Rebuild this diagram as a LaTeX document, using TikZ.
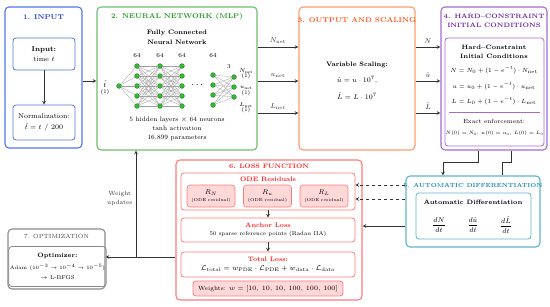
\RequirePackage{fix-cm}
\documentclass[tikz,border=0pt]{standalone}
\usepackage{amsmath, amssymb}
\usepackage{xcolor}
\usepackage{tikz}

\definecolor{inpC}{HTML}{5274E6}
\definecolor{inpT}{HTML}{2641D4}
\definecolor{nnC}{HTML}{6CBF6C}
\definecolor{nnT}{HTML}{2A9A2A}
\definecolor{neuF}{HTML}{33B833}
\definecolor{neuD}{HTML}{1F7A1F}
\definecolor{outC}{HTML}{FF9A70}
\definecolor{outT}{HTML}{FF5A22}
\definecolor{hcC}{HTML}{A46AD4}
\definecolor{hcT}{HTML}{6A22A6}
\definecolor{adC}{HTML}{5AB6CC}
\definecolor{adT}{HTML}{1C8CAA}
\definecolor{lossC}{HTML}{FF7A7A}
\definecolor{lossT}{HTML}{FF2424}
\definecolor{lossF}{HTML}{FFD8D8}
\definecolor{optC}{HTML}{8A8A8A}
\definecolor{optT}{HTML}{444444}

\newcommand{\fsz}[1]{\fontsize{#1}{#1}\selectfont}

\tikzset{
  outer/.style={draw, rounded corners=4pt, line width=1.1pt, inner sep=0pt},
  inner/.style={draw, rounded corners=3pt, line width=0.8pt, align=center, inner sep=1pt},
  ttl/.style={font=\scriptsize\bfseries, align=center},
  neuron/.style={circle, fill=neuF, draw=neuD, line width=0.3pt, inner sep=0pt, minimum size=4.8pt},
  syn/.style={gray!75, line width=0.3pt},
  arr/.style={->, >=stealth, line width=0.7pt, black!80},
}

\begin{document}
\begin{tikzpicture}[x=1pt, y=-1pt, font=\scriptsize]
      \useasboundingbox (0,0) rectangle (550,306);
      % 1. input
      \node[outer, draw=inpC, minimum width=77, minimum height=141] (inp) at (43.5,77.5) {};
      \node[ttl, text=inpT] (inpT) at (43.5,17) {1. INPUT};
      \node[inner, draw=inpC, minimum width=62, minimum height=32] (time) at (44,54) {\textbf{Input:}\\[2pt] time $t$};
      \node[inner, draw=inpC, minimum width=62, minimum height=35] (norm) at (44,122.5) {Normalization:\\[3pt] $\hat{t} = t\ /\ 200$};
      \draw[arr] (time) -- (norm);
      % 2. neural network
      \node[outer, draw=nnC, minimum width=160, minimum height=143] (nn) at (177,78.5) {};
      \node[ttl, text=nnT] (nnT) at (177,17) {2. NEURAL NETWORK (MLP)};
      \node[ttl, font=\fsz{6.5}\bfseries] (nnH) at (177,37) {Fully Connected\\[3pt]Neural Network};
      \node[neuron] (n0) at (119,86) {};
      \foreach \l/\x in {1/137, 2/160, 3/182} {
        \node[font=\fsz{6}] (w\l) at (\x,56) {64};
        \foreach \j in {1,...,5} \node[neuron] (n\l-\j) at (\x,56+10*\j) {};
      }
      \node[font=\fsz{6}] (w4) at (213,56) {64};
      \foreach \j in {1,...,4} \node[neuron] (n4-\j) at (213,65+10*\j) {};
      \node[font=\fsz{6}] (w5) at (229,67) {3};
      \foreach \j in {1,...,3} \node[neuron] (n5-\j) at (234,67+10*\j) {};
      \foreach \j in {1,...,5} \draw[syn] (n0) -- (n1-\j);
      \foreach \i in {1,...,5} \foreach \j in {1,...,5} {
        \draw[syn] (n1-\i) -- (n2-\j);
        \draw[syn] (n2-\i) -- (n3-\j);
      }
      \foreach \i in {1,...,4} \foreach \j in {1,...,3} \draw[syn] (n4-\i) -- (n5-\j);
      \node[font=\normalsize] (dots) at (198,85) {$\cdots$};
      \node[align=center, font=\fsz{5.5}] (tin) at (105,88) {\scriptsize$\hat{t}$\\[1pt](1)};
      \node[align=center, font=\fsz{5.5}] (oN) at (246,74) {$N_{\text{net}}$\\(1)};
      \node[align=center, font=\fsz{5.5}] (ou) at (246,91) {$u_{\text{net}}$\\(1)};
      \node[align=center, font=\fsz{5.5}] (oL) at (246,108) {$L_{\text{net}}$\\(1)};
      \node[align=center, font=\fsz{6.5}] (nnInfo) at (177,129) {5 hidden layers $\times$ 64 neurons\\[2.5pt]tanh activation\\[2.5pt]16,899 parameters};
      % 3. output and scaling
      \node[outer, draw=outC, minimum width=116, minimum height=143] (sc) at (357,78.5) {};
      \node[ttl, text=outT] (scT) at (357,20) {3. OUTPUT AND SCALING};
      \node[font=\fsz{6.5}\bfseries] (scH) at (357,65) {Variable Scaling:};
      \node (scu) at (357,80) {$\hat{u} = u\cdot 10^7,$};
      \node (scL) at (357,96) {$\hat{L} = L\cdot 10^7$};
      % 4. hard constraint
      \node[outer, draw=hcC, minimum width=106, minimum height=143] (hc) at (494,78.5) {};
      \node[ttl, font=\fsz{6.3}\bfseries, text=hcT] (hcT) at (494,21) {4. HARD--CONSTRAINT\\[3pt]INITIAL CONDITIONS};
      \node[inner, draw=hcC, minimum width=99, minimum height=108] (hcIn) at (494.5,92) {};
      \node[ttl, font=\fsz{6.3}\bfseries] (hcH) at (494,52) {Hard--Constraint\\[3pt]Initial Conditions};
      \node[font=\fsz{6}] (eqN) at (494,70) {$N = N_0 + (1-e^{-t})\cdot N_{\text{net}}$};
      \node[font=\fsz{6}] (equ) at (494,86) {$u = u_0 + (1-e^{-t})\cdot u_{\text{net}}$};
      \node[font=\fsz{6}] (eqL) at (494,101) {$L = L_0 + (1-e^{-t})\cdot L_{\text{net}}$};
      \draw[hcC, line width=0.7pt] (hcIn.west |- 0,112) ++(4,0) -- ([xshift=-4pt]hcIn.east |- 0,112);
      \node[font=\fsz{6}] (exT) at (494,121) {Exact enforcement:};
      \node[font=\fsz{4.8}, inner sep=0pt] (exEq) at (494.5,133) {$N(0)=N_0,\, u(0)=u_0,\, L(0)=L_0$};
      % 5. automatic differentiation
      \node[outer, draw=adC, minimum width=134, minimum height=71] (ad) at (473,211.5) {};
      \node[ttl, font=\fsz{5.8}\bfseries, text=adT] (adT) at (473,185) {5. AUTOMATIC DIFFERENTIATION};
      \node[inner, draw=adC, minimum width=115, minimum height=46] (adIn) at (473.5,216) {};
      \node[ttl, font=\fsz{6.3}\bfseries] (adH) at (473,202) {Automatic Differentiation};
      \node[inner sep=0pt] (dN) at (439,225) {$\dfrac{dN}{dt}$};
      \node[inner sep=0pt] (du) at (473,225) {$\dfrac{d\hat{u}}{dt}$};
      \node[inner sep=0pt] (dL) at (506,225) {$\dfrac{d\hat{L}}{dt}$};
      % 6. loss function
      \node[outer, draw=lossC, minimum width=186, minimum height=140] (loss) at (269,230) {};
      \node[ttl, font=\fsz{6.5}\bfseries, text=lossT] (lossT) at (269,166) {6. LOSS FUNCTION};
      \node[inner, draw=lossC, minimum width=174, minimum height=37] (ode) at (268,191.5) {};
      \node[ttl, font=\fsz{6.5}\bfseries, text=lossT] (odeT) at (268,179.5) {ODE Residuals};
      \foreach \r/\s/\x in {rN/N/211, ru/u/267.5, rL/L/324}
        \node[inner, draw=lossC, fill=lossF, line width=0.6pt, minimum width=48, minimum height=22] (\r) at (\x,196) {$R_{\s}$\\[-1pt] {\fsz{4.3}(ODE residual)}};
      \node[inner, draw=lossC, minimum width=174, minimum height=24, font=\fsz{5.6}] (anc) at (268,230) {{\color{lossT}\fsz{6.5}\bfseries Anchor Loss}\\[3pt] 50 sparse reference points (Radau IIA)};
      \node[inner, draw=lossC, minimum width=174, minimum height=25] (tot) at (268,264.5) {{\color{lossT}\fsz{6.5}\bfseries Total Loss:}\\[1.5pt] \fsz{7.2}$\mathcal{L}_{\text{total}} = w_{\text{PDE}}\cdot\mathcal{L}_{\text{PDE}} + w_{\text{data}}\cdot\mathcal{L}_{\text{data}}$};
      \node[inner, draw=lossC, fill=lossF, minimum width=150, minimum height=15] (wts) at (268,288.5) {\fsz{6}Weights: \fsz{6.6}$w = [10,\, 10,\, 10,\, 100,\, 100,\, 100]$};
      \draw[arr] (ode) -- (anc);
      \draw[arr] (anc) -- (tot);
      % 7. optimization
      \node[outer, draw=optC, minimum width=97, minimum height=60] (opt) at (56.5,259) {};
      \node[font=\fsz{6}, text=optT] (optT) at (56.5,236.5) {7. OPTIMIZATION};
      \node[inner, draw=optC, minimum width=87, minimum height=40, font=\fsz{5}] (optIn) at (57.5,266.5) {{\fsz{6.2}\bfseries Optimizer:}\\[4pt] Adam ($10^{-3}\to 10^{-4}\to 10^{-5}$)\\[4pt] \fsz{5.6}$\to$ L-BFGS};
      % connectors
      \coordinate (yIn) at (0,81);
      \coordinate (yN) at (0,47);
      \coordinate (yu) at (0,81);
      \coordinate (yL) at (0,113);
      \draw[arr] (inp.east |- yIn) -- (nn.west |- yIn);
      \draw[arr] (nn.east |- yN) -- node[above] {$N_{\text{net}}$} (sc.west |- yN);
      \draw[arr] (nn.east |- yu) -- node[above] {$u_{\text{net}}$} (sc.west |- yu);
      \draw[arr] (nn.east |- yL) -- node[above] {$L_{\text{net}}$} (sc.west |- yL);
      \draw[arr] (sc.east |- yN) -- node[above] {$N$} (hc.west |- yN);
      \draw[arr] (sc.east |- yu) -- node[above] {$\hat{u}$} (hc.west |- yu);
      \draw[arr] (sc.east |- yL) -- node[above] {$\hat{L}$} (hc.west |- yL);
      \coordinate (k1) at (478,162);
      \coordinate (k2) at (443,162);
      \coordinate (k3) at (511,162);
      \coordinate (k4) at (502,162);
      \draw[arr] (hc.south -| k1) -- (k1) -- (k2) -- (ad.north -| k2);
      \draw[line width=0.7pt, black!80] (hc.south -| k3) -- (k3) -- (k4) -- (ad.north -| k4);
      \coordinate (yR1) at (0,185);
      \coordinate (yR2) at (0,199);
      \coordinate (yA) at (0,226);
      \draw[arr, dashed] (ad.west |- yR1) -- (ode.east |- yR1);
      \draw[arr, dashed] (ad.west |- yR2) -- (ode.east |- yR2);
      \draw[arr] (ad.west |- yA) -- (loss.east |- yA);
      \coordinate (yO) at (0,257);
      \coordinate (kU) at (136,257);
      \draw[arr] (loss.west |- yO) -- (opt.east |- yO);
      \draw[arr] (kU) -- node[left, align=center, pos=0.55, font=\fsz{6}] {Weight\\[3pt]updates} (nn.south -| kU);
\end{tikzpicture}
\end{document}
